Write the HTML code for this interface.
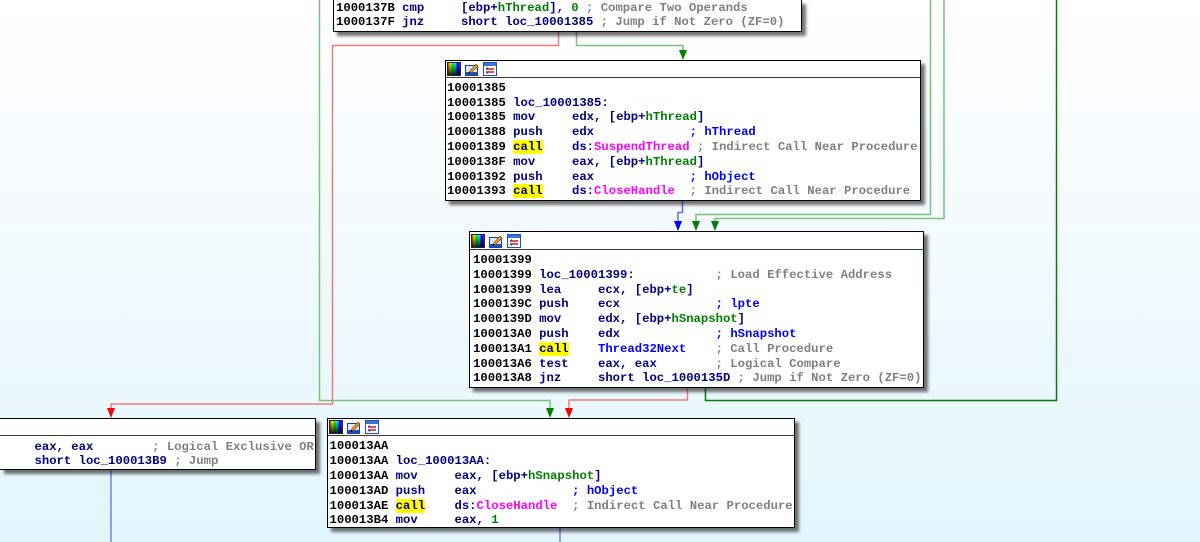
<!DOCTYPE html>
<html>
<head>
<meta charset="utf-8">
<style>
  html, body { margin:0; padding:0; }
  body { width:1200px; height:542px; overflow:hidden; position:relative;
         background: linear-gradient(to bottom, #ffffff 0%, #f4fafd 40%, #e2f6fe 100%); }
  .box { position:absolute; background:#fff; border:1px solid #000; box-sizing:border-box;
         box-shadow: 4px 4px 3px rgba(0,0,0,0.55); }
  .hdr { position:absolute; left:0; right:0; top:0; height:17px; border-bottom:1px solid #3a3a3a; box-sizing:border-box; }
  .ic { position:absolute; top:1px; width:14px; height:14px; }
  pre { position:absolute; margin:0; font-family:"Liberation Mono", monospace; font-size:12.25px;
        line-height:14.8px; font-weight:bold; color:#000; white-space:pre; }
  .m { color:#000080; }
  .g { color:#008000; }
  .p { color:#ff00ff; }
  .c { color:#808080; }
  .b { color:#0000ff; }
  .y { background:#ffff00; color:#000080; }
  svg.edges { position:absolute; left:0; top:0; }
</style>
</head>
<body>

<svg class="edges" width="1200" height="542" viewBox="0 0 1200 542">
  <g fill="none" stroke-width="1.5">
    <path d="M558.5,31 V45.5 H332.5 V404 H111 V409" stroke="#f27a7a"/>
    <path d="M576.5,31 V45.5 H683 V51" stroke="#7cc07c"/>
    <path d="M682.5,201 V212.5 H678 V222" stroke="#6a6aff"/>
    <path d="M930.5,0 V214.5 H696 V222" stroke="#7cc07c"/>
    <path d="M944,0 V218.5 H715 V222" stroke="#7cc07c"/>
    <path d="M705.5,388 V400.5 H1056.5 V0" stroke="#008000"/>
    <path d="M687.5,388 V400 H569 V409" stroke="#f27a7a"/>
    <path d="M319.5,0 V400.5 H550 V409" stroke="#7cc07c"/>
    <path d="M111,470 V542" stroke="#7a7aff"/>
    <path d="M560,528 V542" stroke="#7a7aff"/>
  </g>
  <polygon points="107,408 115,408 111,418" fill="#ff0000"/>
  <polygon points="679,50 687,50 683,60" fill="#008000"/>
  <polygon points="674,221 682,221 678,231" fill="#0000ff"/>
  <polygon points="692,221 700,221 696,231" fill="#008000"/>
  <polygon points="711,221 719,221 715,231" fill="#008000"/>
  <polygon points="565,408 573,408 569,418" fill="#ff0000"/>
  <polygon points="546,408 554,408 550,418" fill="#008000"/>
</svg>

<svg width="0" height="0" style="position:absolute">
  <defs>
    <linearGradient id="hue" x1="0" y1="0" x2="1" y2="0">
      <stop offset="0" stop-color="#ff0000"/>
      <stop offset="0.2" stop-color="#ffff00"/>
      <stop offset="0.4" stop-color="#00ff00"/>
      <stop offset="0.6" stop-color="#00ffff"/>
      <stop offset="0.8" stop-color="#0000ff"/>
      <stop offset="1" stop-color="#ff00ff"/>
    </linearGradient>
    <linearGradient id="dark" x1="0" y1="0" x2="0" y2="1">
      <stop offset="0" stop-color="#000" stop-opacity="0"/>
      <stop offset="1" stop-color="#000" stop-opacity="0.85"/>
    </linearGradient>
  </defs>
</svg>

<!-- Block 1 (top, partially visible) -->
<div class="box" style="left:333px; top:0; width:469px; height:32px; border-top:none;"></div>
<pre style="left:336px; top:0.5px;">1000137B <span class="m">cmp     [ebp+</span><span class="g">hThread</span><span class="m">], </span><span class="g">0</span> <span class="c">; Compare Two Operands</span>
1000137F <span class="m">jnz     short loc_10001385</span> <span class="c">; Jump if Not Zero (ZF=0)</span></pre>

<!-- Block 2 -->
<div class="box" style="left:445px; top:60px; width:476px; height:141px;">
  <div class="hdr">
    <svg class="ic" style="left:1px" viewBox="0 0 14 14"><rect x="0.5" y="0.5" width="13" height="13" fill="url(#hue)" stroke="#202060"/><rect x="1" y="1" width="12" height="12" fill="url(#dark)"/></svg>
    <svg class="ic" style="left:19px" viewBox="0 0 14 14"><rect x="0.5" y="3.5" width="12" height="10" fill="#dde8ff" stroke="#1a40b0"/><rect x="1" y="10" width="11" height="3" fill="#2050c0"/><path d="M4,10 L11,2 L13,4 L6,11 Z" fill="#f0a020" stroke="#804000" stroke-width="0.6"/><path d="M4,10 L6,11 L3.5,12 Z" fill="#000"/></svg>
    <svg class="ic" style="left:37px" viewBox="0 0 14 14"><rect x="0.5" y="0.5" width="13" height="13" fill="#ffffff" stroke="#2050c0"/><rect x="1" y="1" width="12" height="3" fill="#3a70d8"/><path d="M3,7 H11 M3,10 H11" stroke="#c02020" stroke-width="1.5"/><path d="M3,7 L5,5.5 M3,10 L5,11.5" stroke="#2040c0" stroke-width="1"/></svg>
  </div>
</div>
<pre style="left:447px; top:80.8px;">10001385
10001385 <span class="m">loc_10001385:</span>
10001385 <span class="m">mov     edx, [ebp+</span><span class="g">hThread</span><span class="m">]</span>
10001388 <span class="m">push    edx</span>             <span class="b">; hThread</span>
10001389 <span class="y">call</span>    <span class="m">ds:</span><span class="p">SuspendThread</span> <span class="c">; Indirect Call Near Procedure</span>
1000138F <span class="m">mov     eax, [ebp+</span><span class="g">hThread</span><span class="m">]</span>
10001392 <span class="m">push    eax</span>             <span class="b">; hObject</span>
10001393 <span class="y">call</span>    <span class="m">ds:</span><span class="p">CloseHandle</span>  <span class="c">; Indirect Call Near Procedure</span></pre>

<!-- Block 3 -->
<div class="box" style="left:469px; top:231px; width:455px; height:157px;">
  <div class="hdr" style="height:18px;">
    <svg class="ic" style="left:1px; top:2px" viewBox="0 0 14 14"><rect x="0.5" y="0.5" width="13" height="13" fill="url(#hue)" stroke="#202060"/><rect x="1" y="1" width="12" height="12" fill="url(#dark)"/></svg>
    <svg class="ic" style="left:19px; top:2px" viewBox="0 0 14 14"><rect x="0.5" y="3.5" width="12" height="10" fill="#dde8ff" stroke="#1a40b0"/><rect x="1" y="10" width="11" height="3" fill="#2050c0"/><path d="M4,10 L11,2 L13,4 L6,11 Z" fill="#f0a020" stroke="#804000" stroke-width="0.6"/><path d="M4,10 L6,11 L3.5,12 Z" fill="#000"/></svg>
    <svg class="ic" style="left:37px; top:2px" viewBox="0 0 14 14"><rect x="0.5" y="0.5" width="13" height="13" fill="#ffffff" stroke="#2050c0"/><rect x="1" y="1" width="12" height="3" fill="#3a70d8"/><path d="M3,7 H11 M3,10 H11" stroke="#c02020" stroke-width="1.5"/><path d="M3,7 L5,5.5 M3,10 L5,11.5" stroke="#2040c0" stroke-width="1"/></svg>
  </div>
</div>
<pre style="left:473px; top:253px;">10001399
10001399 <span class="m">loc_10001399:</span>           <span class="c">; Load Effective Address</span>
10001399 <span class="m">lea     ecx, [ebp+</span><span class="g">te</span><span class="m">]</span>
1000139C <span class="m">push    ecx</span>             <span class="b">; lpte</span>
1000139D <span class="m">mov     edx, [ebp+</span><span class="g">hSnapshot</span><span class="m">]</span>
100013A0 <span class="m">push    edx</span>             <span class="b">; hSnapshot</span>
100013A1 <span class="y">call</span>    <span class="b">Thread32Next</span>    <span class="c">; Call Procedure</span>
100013A6 <span class="m">test    eax, eax</span>        <span class="c">; Logical Compare</span>
100013A8 <span class="m">jnz     short loc_1000135D</span> <span class="c">; Jump if Not Zero (ZF=0)</span></pre>

<!-- Block 4 (bottom-left, partially visible) -->
<div class="box" style="left:0; top:418px; width:316px; height:52px; border-left:none;">
  <div class="hdr"></div>
</div>
<pre style="left:34.5px; top:439.6px;"><span class="m">eax, eax</span>        <span class="c">; Logical Exclusive OR</span>
<span class="m">short loc_100013B9</span> <span class="c">; Jump</span></pre>

<!-- Block 5 -->
<div class="box" style="left:327px; top:418px; width:468px; height:110px;">
  <div class="hdr">
    <svg class="ic" style="left:1px" viewBox="0 0 14 14"><rect x="0.5" y="0.5" width="13" height="13" fill="url(#hue)" stroke="#202060"/><rect x="1" y="1" width="12" height="12" fill="url(#dark)"/></svg>
    <svg class="ic" style="left:19px" viewBox="0 0 14 14"><rect x="0.5" y="3.5" width="12" height="10" fill="#dde8ff" stroke="#1a40b0"/><rect x="1" y="10" width="11" height="3" fill="#2050c0"/><path d="M4,10 L11,2 L13,4 L6,11 Z" fill="#f0a020" stroke="#804000" stroke-width="0.6"/><path d="M4,10 L6,11 L3.5,12 Z" fill="#000"/></svg>
    <svg class="ic" style="left:37px" viewBox="0 0 14 14"><rect x="0.5" y="0.5" width="13" height="13" fill="#ffffff" stroke="#2050c0"/><rect x="1" y="1" width="12" height="3" fill="#3a70d8"/><path d="M3,7 H11 M3,10 H11" stroke="#c02020" stroke-width="1.5"/><path d="M3,7 L5,5.5 M3,10 L5,11.5" stroke="#2040c0" stroke-width="1"/></svg>
  </div>
</div>
<pre style="left:329.5px; top:439.4px;">100013AA
100013AA <span class="m">loc_100013AA:</span>
100013AA <span class="m">mov     eax, [ebp+</span><span class="g">hSnapshot</span><span class="m">]</span>
100013AD <span class="m">push    eax</span>             <span class="b">; hObject</span>
100013AE <span class="y">call</span>    <span class="m">ds:</span><span class="p">CloseHandle</span>  <span class="c">; Indirect Call Near Procedure</span>
100013B4 <span class="m">mov     eax, </span><span class="g">1</span></pre>

</body>
</html>
